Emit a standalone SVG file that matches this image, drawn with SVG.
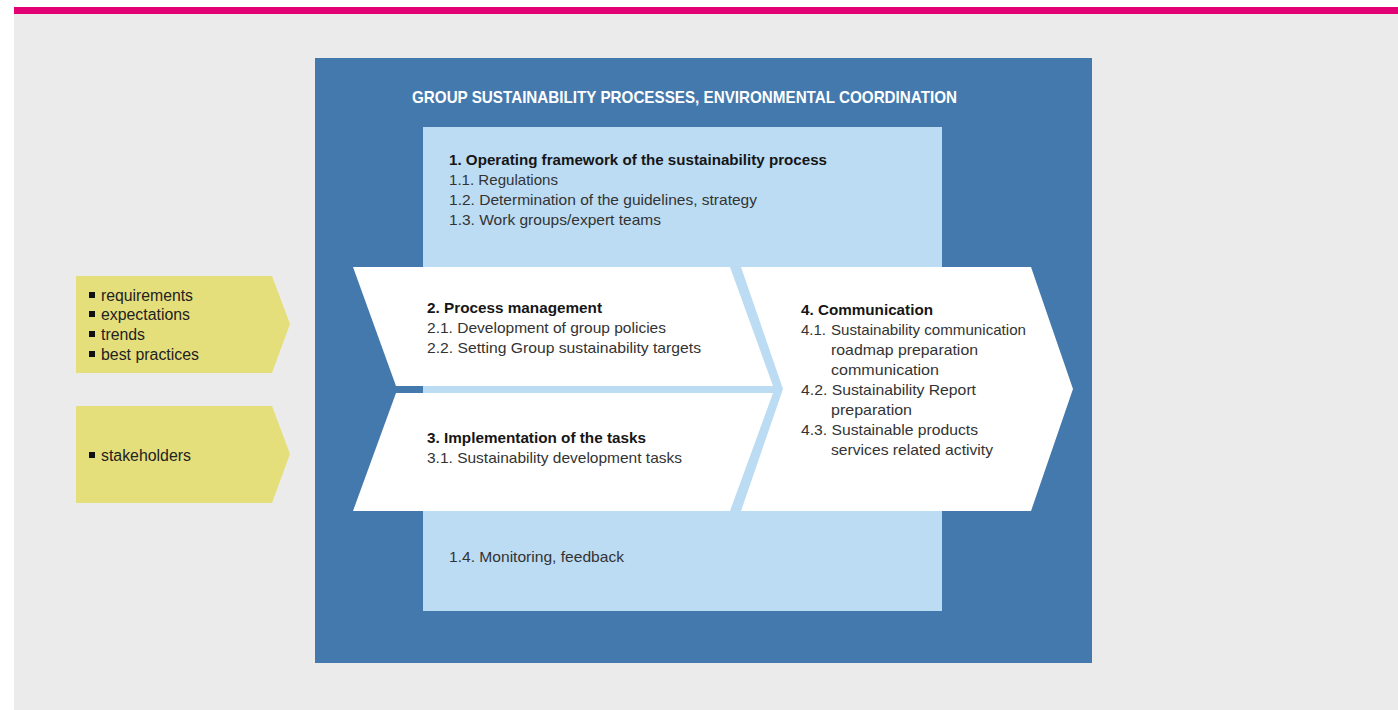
<svg xmlns="http://www.w3.org/2000/svg" width="1398" height="710" viewBox="0 0 1398 710">
<style>
text{font-family:"Liberation Sans",Arial,sans-serif;}
.b{font-size:15px;fill:#333;}
.h{font-size:15px;font-weight:bold;fill:#161616;}
.t{font-size:17px;font-weight:bold;fill:#fff;}
.y{font-size:16px;fill:#222;}
.chev{fill:#fff;}
.yel{fill:#e5df7b;}
.bul{fill:#111;}
</style>
<rect x="0" y="0" width="1398" height="710" fill="#fff"/>
<rect id="bg" x="14" y="14" width="1384" height="696" fill="#ebebeb"/>
<rect id="topbar" x="14" y="7" width="1384" height="7" fill="#e20074"/>

<g id="outer">
<rect x="315" y="58" width="777" height="605" fill="#4479ad"/>
<text class="t" x="412" y="103" textLength="545" lengthAdjust="spacingAndGlyphs">GROUP SUSTAINABILITY PROCESSES, ENVIRONMENTAL COORDINATION</text>
</g>

<g id="node1">
<rect x="423" y="127" width="519" height="484" fill="#bcdcf4"/>
<text class="h" x="449" y="165" textLength="378" lengthAdjust="spacingAndGlyphs">1. Operating framework of the sustainability process</text>
<text class="b" x="449" y="185" textLength="109" lengthAdjust="spacingAndGlyphs">1.1. Regulations</text>
<text class="b" x="449" y="205" textLength="308" lengthAdjust="spacingAndGlyphs">1.2. Determination of the guidelines, strategy</text>
<text class="b" x="449" y="225" textLength="212" lengthAdjust="spacingAndGlyphs">1.3. Work groups/expert teams</text>
<text class="b" x="449" y="562" textLength="175" lengthAdjust="spacingAndGlyphs">1.4. Monitoring, feedback</text>
</g>

<g id="connectors"></g>

<g id="node2">
<polygon class="chev" points="353,267 730,267 773,386 396,386"/>
<text class="h" x="427" y="313" textLength="175" lengthAdjust="spacingAndGlyphs">2. Process management</text>
<text class="b" x="427" y="333" textLength="239" lengthAdjust="spacingAndGlyphs">2.1. Development of group policies</text>
<text class="b" x="427" y="353" textLength="274" lengthAdjust="spacingAndGlyphs">2.2. Setting Group sustainability targets</text>
</g>

<g id="node3">
<polygon class="chev" points="396,393 773,393 730,511 353,511"/>
<text class="h" x="427" y="443" textLength="219" lengthAdjust="spacingAndGlyphs">3. Implementation of the tasks</text>
<text class="b" x="427" y="463" textLength="255" lengthAdjust="spacingAndGlyphs">3.1. Sustainability development tasks</text>
</g>

<g id="node4">
<polygon class="chev" points="741,267 1031,267 1073,389 1031,511 741,511 783,389"/>
<text class="h" x="801" y="315" textLength="132" lengthAdjust="spacingAndGlyphs">4. Communication</text>
<text class="b" x="801" y="335">4.1.</text>
<text class="b" x="831" y="335" textLength="195" lengthAdjust="spacingAndGlyphs">Sustainability communication</text>
<text class="b" x="831" y="355" textLength="147" lengthAdjust="spacingAndGlyphs">roadmap preparation</text>
<text class="b" x="831" y="375" textLength="108" lengthAdjust="spacingAndGlyphs">communication</text>
<text class="b" x="801" y="395" textLength="175" lengthAdjust="spacingAndGlyphs">4.2. Sustainability Report</text>
<text class="b" x="831" y="415" textLength="81" lengthAdjust="spacingAndGlyphs">preparation</text>
<text class="b" x="801" y="435" textLength="177" lengthAdjust="spacingAndGlyphs">4.3. Sustainable products</text>
<text class="b" x="831" y="455" textLength="162" lengthAdjust="spacingAndGlyphs">services related activity</text>
</g>

<g id="inputs">
<polygon class="yel" points="76,276 272,276 290,324 272,373 76,373"/>
<rect class="bul" x="89" y="292" width="6" height="6"/>
<text class="y" x="101" y="301" textLength="92" lengthAdjust="spacingAndGlyphs">requirements</text>
<rect class="bul" x="89" y="311" width="6" height="6"/>
<text class="y" x="101" y="320" textLength="89" lengthAdjust="spacingAndGlyphs">expectations</text>
<rect class="bul" x="89" y="331" width="6" height="6"/>
<text class="y" x="101" y="340" textLength="44" lengthAdjust="spacingAndGlyphs">trends</text>
<rect class="bul" x="89" y="351" width="6" height="6"/>
<text class="y" x="101" y="360" textLength="98" lengthAdjust="spacingAndGlyphs">best practices</text>
</g>

<g id="stakeholders">
<polygon class="yel" points="76,406 272,406 290,454 272,503 76,503"/>
<rect class="bul" x="89" y="452" width="6" height="6"/>
<text class="y" x="101" y="461" textLength="90" lengthAdjust="spacingAndGlyphs">stakeholders</text>
</g>
</svg>
